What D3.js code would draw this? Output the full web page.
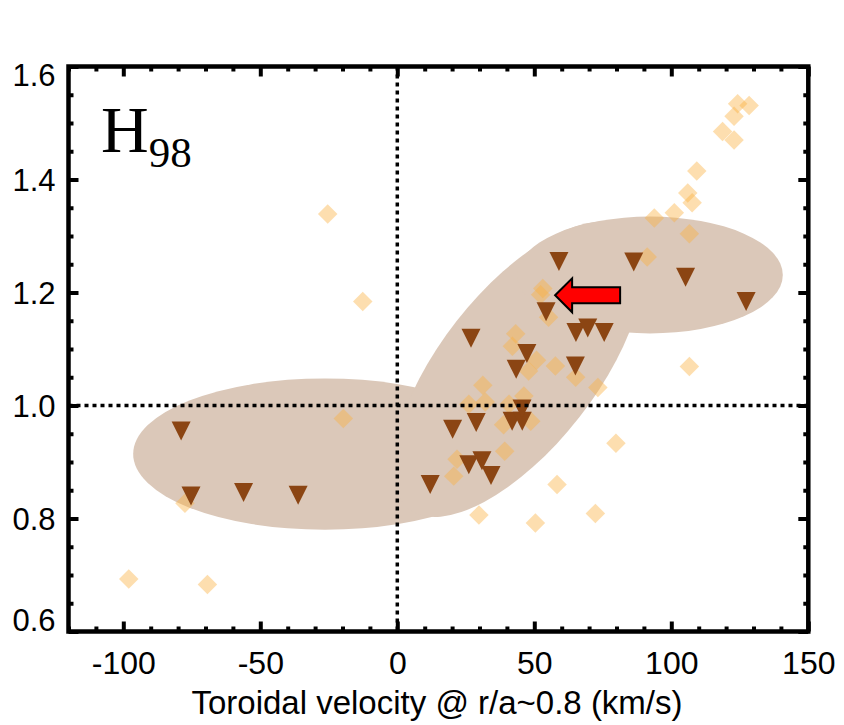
<!DOCTYPE html>
<html>
<head>
<meta charset="utf-8">
<title>H98 vs toroidal velocity</title>
<script src="https://cdn.jsdelivr.net/npm/d3@7"></script>
<style>
  body { margin: 0; background: #fff; }
  text { font-family: "Liberation Sans", Arial, sans-serif; }
</style>
</head>
<body>
<svg id="chart"></svg>
<script>
// axis ticks
const xMajor = [-100, -50, 0, 50, 100, 150];
const yMajor = [0.6, 0.8, 1.0, 1.2, 1.4, 1.6];

// light orange diamonds: [velocity km/s, H98]
const diamondX = [-25.4, -12.6, -19.7, -77.5, -98.0, -69.3, 106.6, 79.8, 58.3, 72.3, 29.8, 50.4,
  73.2, 65.1, 57.7, 50.8, 47.9, 42.0, 43.2, 31.2, 26.1, 32.1, 46.2, 40.8, 38.8, 48.7, 39.2,
  21.8, 20.6, 52.3, 53.1, 55.2, 124.2, 128.4, 122.9, 118.7, 122.9, 109.3, 106.0, 107.6,
  101.1, 93.8, 106.6, 91.2];
const diamondY = [1.339, 1.184, 0.977, 0.827, 0.693, 0.683, 1.069, 0.933, 0.860, 0.809, 0.806, 0.792,
  1.032, 1.050, 1.070, 1.080, 1.061, 1.105, 1.127, 1.036, 1.002, 1.006, 1.017, 1.002, 0.966, 0.972, 0.919,
  0.905, 0.875, 1.196, 1.207, 1.156, 1.534, 1.531, 1.512, 1.485, 1.470, 1.415, 1.376, 1.359,
  1.341, 1.332, 1.304, 1.263];

// brown down-triangles
const triX = [-78.9, -75.3, -56.1, -36.2, 12.0, 20.2, 28.8, 41.9, 45.6, 45.5, 26.1, 30.9, 34.2,
  59.0, 86.3, 105.2, 127.3, 54.3, 26.9, 65.2, 69.5, 75.5, 47.3, 43.4, 65.0];
const triY = [0.955, 0.840, 0.846, 0.841, 0.860, 0.958, 0.970, 0.972, 0.972, 0.994, 0.895, 0.902, 0.876,
  1.255, 1.254, 1.227, 1.184, 1.166, 1.119, 1.129, 1.137, 1.129, 1.092, 1.064, 1.070];

// shaded regions: major-axis end points (data) and semi-minor half-width (H98 units)
const regionX1 = [-96.4, 4.2, 43.7];
const regionY1 = [0.914, 0.817, 1.231];
const regionX2 = [43.6, 83.8, 140.7];
const regionY2 = [0.914, 1.311, 1.231];
const regionHalf = [0.134, 0.138, 0.1035];

// arrow tip
const arrowTip = [57.6, 1.195];

const W = 844, H = 725;
const svg = d3.select("#chart").attr("width", W).attr("height", H);

const x = d3.scaleLinear().domain([-120, 150]).range([68.5, 808.3]);
const y = d3.scaleLinear().domain([0.6, 1.6]).range([631.5, 66.5]);

// regions
const regions = regionX1.map((d, i) => {
  const p1 = [x(d), y(regionY1[i])], p2 = [x(regionX2[i]), y(regionY2[i])];
  const cx = (p1[0] + p2[0]) / 2, cy = (p1[1] + p2[1]) / 2;
  const a = Math.hypot(p2[0] - p1[0], p2[1] - p1[1]) / 2;
  const b = Math.abs(y(1) - y(1 + regionHalf[i]));
  const ang = Math.atan2(p2[1] - p1[1], p2[0] - p1[0]) * 180 / Math.PI;
  return {cx, cy, a, b, ang};
});
svg.append("g").selectAll("ellipse").data(regions).enter().append("ellipse")
  .attr("cx", 0).attr("cy", 0)
  .attr("rx", d => d.a).attr("ry", d => d.b)
  .attr("transform", d => `translate(${d.cx},${d.cy}) rotate(${d.ang})`)
  .attr("fill", "#dbc8b9");

// diamonds
const diamonds = diamondX.map((d, i) => [d, diamondY[i]]);
svg.append("g").selectAll("path").data(diamonds).enter().append("path")
  .attr("d", d3.symbol(d3.symbolSquare, 190))
  .attr("transform", d => `translate(${x(d[0])},${y(d[1])}) rotate(45)`)
  .attr("fill", "#fbb040").attr("fill-opacity", 0.42);

// triangles
const downTri = {
  draw(ctx, size) {
    const h = Math.sqrt(size) / 2;
    ctx.moveTo(-h, -h); ctx.lineTo(h, -h); ctx.lineTo(0, h); ctx.closePath();
  }
};
const tris = triX.map((d, i) => [d, triY[i]]);
svg.append("g").selectAll("path").data(tris).enter().append("path")
  .attr("d", d3.symbol(downTri, 361))
  .attr("transform", d => `translate(${x(d[0])},${y(d[1])})`)
  .attr("fill", "#8b4513");

// dotted reference lines
svg.append("line").attr("x1", x(0)).attr("x2", x(0)).attr("y1", y(1.6)).attr("y2", y(0.6))
  .attr("stroke", "#000").attr("stroke-width", 3.5).attr("stroke-dasharray", "4,4");
svg.append("line").attr("x1", x(-120)).attr("x2", x(150)).attr("y1", y(1)).attr("y2", y(1))
  .attr("stroke", "#000").attr("stroke-width", 3.5).attr("stroke-dasharray", "4,4");

// arrow
const tx = x(arrowTip[0]), ty = y(arrowTip[1]);
const arrowPts = [[0, 0], [17, -17], [17, -8], [65, -8], [65, 8], [17, 8], [17, 17]];
svg.append("path")
  .attr("d", d3.line()(arrowPts.map(p => [tx + p[0], ty + p[1]])) + "Z")
  .attr("fill", "#ff0000").attr("stroke", "#000").attr("stroke-width", 2);

// axes
const xMinor = d3.range(-120, 151, 10).filter(v => v % 50 !== 0);
const yMinor = d3.range(12, 33).map(v => v * 0.05).filter(v => Math.round(v * 100) % 20 !== 0);

function styleAxis(g) {
  g.select(".domain").remove();
  g.selectAll(".tick line").attr("stroke", "#000").attr("stroke-width", 4);
}
function axisPair(gen, major, minor, len, tr, labels) {
  const gm = svg.append("g").attr("transform", tr)
    .call(gen.tickValues(major).tickSize(-len * 2).tickPadding(labels ? labels : 0));
  styleAxis(gm);
  if (!labels) gm.selectAll("text").remove();
  const gn = svg.append("g").attr("transform", tr)
    .call(gen.tickValues(minor).tickSize(-len));
  styleAxis(gn);
  gn.selectAll("text").remove();
  return gm;
}

const gb = axisPair(d3.axisBottom(x).tickFormat(d => String(d)), xMajor, xMinor, 5,
  `translate(0,${y(0.6)})`, 20);
gb.selectAll("text").attr("font-size", 32).attr("fill", "#000");
axisPair(d3.axisTop(x), xMajor, xMinor, 5, `translate(0,${y(1.6)})`, 0);
const gl = axisPair(d3.axisLeft(y).tickFormat(d3.format(".1f")), yMajor, yMinor, 5,
  `translate(${x(-120)},0)`, 13);
gl.selectAll("text").attr("font-size", 31).attr("fill", "#000")
  .attr("dy", d => d === 1.6 ? "0.62em" : d === 0.6 ? "-0.02em" : "0.34em");
axisPair(d3.axisRight(y), yMajor, yMinor, 5, `translate(${x(150)},0)`, 0);

// frame
svg.append("rect")
  .attr("x", x(-120)).attr("y", y(1.6))
  .attr("width", x(150) - x(-120)).attr("height", y(0.6) - y(1.6))
  .attr("fill", "none").attr("stroke", "#000").attr("stroke-width", 4.5);

// labels
const lab = svg.append("text").attr("x", 101).attr("y", 152)
  .style("font-family", '"Liberation Serif", "Times New Roman", serif')
  .attr("font-size", 66).attr("fill", "#000");
lab.append("tspan").text("H");
lab.append("tspan").attr("font-size", 43).attr("dy", 15).text("98");

svg.append("text").attr("x", 437).attr("y", 714).attr("text-anchor", "middle")
  .attr("font-size", 33).attr("fill", "#000")
  .text("Toroidal velocity @ r/a~0.8 (km/s)");
</script>
</body>
</html>
